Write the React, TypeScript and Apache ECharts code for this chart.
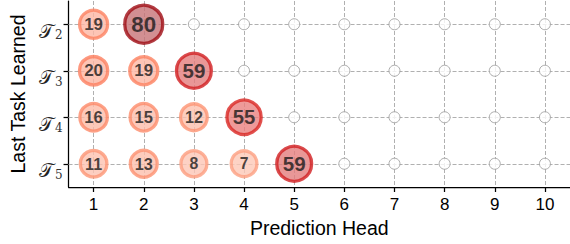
import React, { useEffect, useRef } from 'react';
import * as echarts from 'echarts';

const heads = ['1', '2', '3', '4', '5', '6', '7', '8', '9', '10'];
const tasks = ['2', '3', '4', '5'];
const rowT2 = [19, 80];
const rowT3 = [20, 19, 59];
const rowT4 = [16, 15, 12, 55];
const rowT5 = [11, 13, 8, 7, 59];
const rows = [rowT2, rowT3, rowT4, rowT5];

const REDS = ['#fff5f0', '#fee0d2', '#fcbba1', '#fc9272', '#fb6a4a', '#ef3b2c', '#cb181d', '#a50f15', '#67000d'];

function hexToRgb(h: string) {
  const n = parseInt(h.slice(1), 16);
  return [(n >> 16) & 255, (n >> 8) & 255, n & 255];
}
function reds(t: number) {
  const x = Math.max(0, Math.min(1, t)) * (REDS.length - 1);
  const i = Math.min(REDS.length - 2, Math.floor(x));
  const f = x - i;
  const a = hexToRgb(REDS[i]);
  const b = hexToRgb(REDS[i + 1]);
  return a.map((v, k) => v + (b[k] - v) * f);
}
function rgb(c: number[]) {
  return `rgb(${c.map((v) => Math.round(v)).join(',')})`;
}

const FONT = 'Liberation Sans, Arial, sans-serif';
const BW = 3.3;

export default function App() {
  const ref = useRef<HTMLDivElement>(null);
  useEffect(() => {
    document.body.style.margin = '0';
    const chart = echarts.init(ref.current!, null, { renderer: 'svg' });

    const bubbles: any[] = [];
    const empties: any[] = [];
    rows.forEach((row, r) => {
      heads.forEach((h, c) => {
        if (c < row.length) {
          const v = row[c];
          const edge = reds(0.28 + 0.0076 * v);
          const fill = edge.map((x) => x * 0.58 + 255 * 0.42);
          const D = Math.sqrt(760 + 11.8 * v);
          bubbles.push({
            value: [c, r, v],
            symbolSize: D - BW,
            itemStyle: { color: rgb(fill), borderColor: rgb(edge), borderWidth: BW },
            label: { fontSize: Math.round(D * 0.54 * 10) / 10 },
          });
        } else {
          empties.push([c, r]);
        }
      });
    });

    chart.setOption({
      animation: false,
      grid: { left: 63, top: 1, width: 509, height: 186 },
      xAxis: {
        type: 'category',
        data: heads,
        boundaryGap: true,
        name: 'Prediction Head',
        nameLocation: 'middle',
        nameGap: 31,
        nameTextStyle: { fontSize: 19.5, color: '#000', fontFamily: FONT },
        axisLine: { show: true, lineStyle: { color: '#000', width: 1.25 } },
        axisTick: { show: true, alignWithLabel: true, length: 5, lineStyle: { color: '#000', width: 1.25 } },
        axisLabel: { fontSize: 17, color: '#000', margin: 9, fontFamily: FONT },
        splitLine: { show: false },
      },
      yAxis: {
        type: 'category',
        data: tasks,
        inverse: true,
        boundaryGap: true,
        name: 'Last Task Learned',
        nameLocation: 'middle',
        nameGap: 37,
        nameTextStyle: { fontSize: 19.5, color: '#000', fontFamily: FONT },
        axisLine: { show: true, lineStyle: { color: '#000', width: 1.25 } },
        axisTick: { show: true, alignWithLabel: true, length: 5, lineStyle: { color: '#000', width: 1.25 } },
        axisLabel: {
          margin: 6,
          formatter: (v: string) => `{t|𝒯}{s|${v}}`,
          rich: {
            t: { fontSize: 19, color: '#222', fontFamily: 'DejaVu Serif, serif', lineHeight: 22, padding: [8, 0, 8, 0], verticalAlign: 'top' },
            s: { fontSize: 12, color: '#333', fontFamily: 'DejaVu Serif, serif', lineHeight: 12, padding: [16, 0, 0, 1], verticalAlign: 'top' },
          },
        },
        splitLine: { show: false },
      },
      series: [
        {
          type: 'scatter',
          z: 3,
          symbol: 'circle',
          symbolSize: 11,
          data: empties,
          itemStyle: { color: '#fff', borderColor: '#999', borderWidth: 1 },
          silent: true,
          markLine: {
            z: 1,
            silent: true,
            symbol: 'none',
            label: { show: false },
            lineStyle: { color: '#b0b0b0', width: 1, type: [4, 2] },
            data: [...heads.map((h) => ({ xAxis: h })), ...tasks.map((t) => ({ yAxis: t }))],
          },
        },
        {
          type: 'scatter',
          z: 4,
          symbol: 'circle',
          data: bubbles,
          label: {
            show: true,
            position: 'inside',
            formatter: (p: any) => String(p.value[2]),
            color: '#1a1a1a',
            textBorderWidth: 0,
            fontWeight: 'bold',
            fontFamily: FONT,
          },
        },
      ],
    });
    return () => chart.dispose();
  }, []);
  return <div ref={ref} style={{ width: 570, height: 244 }} />;
}
